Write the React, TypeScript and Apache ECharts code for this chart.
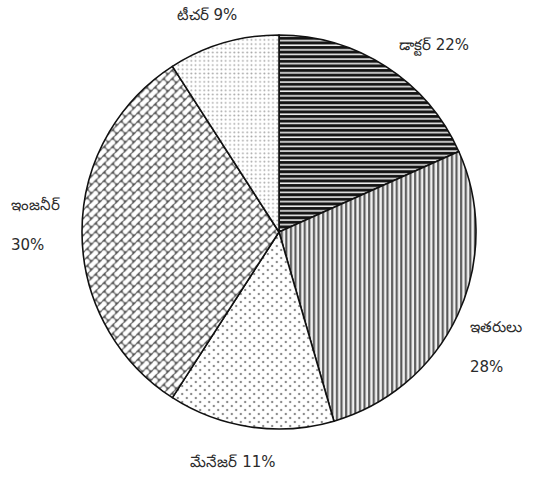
import { useEffect, useRef } from 'react';
import * as echarts from 'echarts';

// Slices, clockwise from 12 o'clock
const categories = ['డాక్టర్', 'ఇతరులు', 'మేనేజర్', 'ఇంజనీర్', 'టీచర్'];
// Shares as drawn (angles)
const drawnShares = [18.3, 27.2, 13.6, 31.8, 9.1];
// Percentages printed on the labels
const labelPercents = [22, 28, 11, 30, 9];

type Draw = (ctx: CanvasRenderingContext2D) => void;

function makeTile(w: number, h: number, draw: Draw) {
  const k = 10;
  const c = document.createElement('canvas');
  c.width = Math.round(w * k);
  c.height = Math.round(h * k);
  const ctx = c.getContext('2d') as CanvasRenderingContext2D;
  ctx.scale(k, k);
  draw(ctx);
  return { image: c, repeat: 'repeat', imageWidth: w, imageHeight: h } as any;
}

function horizontalLines() {
  const p = 4.6;
  return makeTile(4, p, (ctx) => {
    ctx.fillStyle = '#eeeeee';
    ctx.fillRect(0, 0, 4, p);
    ctx.fillStyle = '#6a6a6a';
    ctx.fillRect(0, 0, 4, 3.1);
    ctx.fillStyle = '#111111';
    ctx.fillRect(0, 0.35, 4, 2.4);
  });
}

function verticalLines() {
  const p = 4.6;
  return makeTile(p, 4, (ctx) => {
    ctx.fillStyle = '#f0f0f0';
    ctx.fillRect(0, 0, p, 4);
    ctx.fillStyle = '#a8a8a8';
    ctx.fillRect(0, 0, 2.4, 4);
    ctx.fillStyle = '#505050';
    ctx.fillRect(0.45, 0, 1.5, 4);
  });
}

function sparseDots() {
  const w = 9, h = 8;
  return makeTile(w, h, (ctx) => {
    ctx.fillStyle = '#ffffff';
    ctx.fillRect(0, 0, w, h);
    ctx.fillStyle = '#7a7a7a';
    [[2.25, 2], [6.75, 6]].forEach(([x, y]) => {
      ctx.beginPath();
      ctx.arc(x, y, 1.15, 0, Math.PI * 2);
      ctx.fill();
    });
  });
}

function fineDots() {
  const w = 4.3, h = 4.2;
  return makeTile(w, h, (ctx) => {
    ctx.fillStyle = '#ffffff';
    ctx.fillRect(0, 0, w, h);
    ctx.fillStyle = '#a8a8a8';
    ctx.beginPath();
    ctx.arc(2.1, 2.1, 0.85, 0, Math.PI * 2);
    ctx.fill();
  });
}

function bricks() {
  const s = 8.5;
  const hh = s / Math.SQRT2; // row height
  const L = 2 * hh; // brick length
  return makeTile(s, s, (ctx) => {
    ctx.fillStyle = '#4a4a4a';
    ctx.fillRect(0, 0, s, s);
    ctx.fillStyle = '#ffffff';
    const bw = L - 1.05;
    const bh = hh - 1.05;
    const r = 1.8;
    for (let j = -4; j <= 4; j++) {
      for (let i = -4; i <= 4; i++) {
        const u = i * L + (j % 2 !== 0 ? L / 2 : 0);
        const v = j * hh;
        const cx = (u + v) / Math.SQRT2;
        const cy = (-u + v) / Math.SQRT2;
        ctx.save();
        ctx.translate(cx, cy);
        ctx.rotate(-Math.PI / 4);
        ctx.beginPath();
        const x0 = -bw / 2, y0 = -bh / 2;
        ctx.moveTo(x0 + r, y0);
        ctx.lineTo(x0 + bw - r, y0);
        ctx.arcTo(x0 + bw, y0, x0 + bw, y0 + r, r);
        ctx.lineTo(x0 + bw, y0 + bh - r);
        ctx.arcTo(x0 + bw, y0 + bh, x0 + bw - r, y0 + bh, r);
        ctx.lineTo(x0 + r, y0 + bh);
        ctx.arcTo(x0, y0 + bh, x0, y0 + bh - r, r);
        ctx.lineTo(x0, y0 + r);
        ctx.arcTo(x0, y0, x0 + r, y0, r);
        ctx.closePath();
        ctx.fill();
        ctx.restore();
      }
    }
  });
}

export default function App() {
  const ref = useRef<HTMLDivElement>(null);

  useEffect(() => {
    if (!ref.current) return;
    const chart = echarts.init(ref.current, null, { renderer: 'svg' });
    const fills = [horizontalLines(), verticalLines(), sparseDots(), bricks(), fineDots()];
    const font = '15px "DejaVu Sans"';
    const txt = '#2b2b2b';
    const lbl = (i: number) => `${categories[i]} ${labelPercents[i]}%`;

    chart.setOption({
      animation: false,
      backgroundColor: '#ffffff',
      series: [
        {
          type: 'pie',
          center: [279, 232],
          radius: 197,
          startAngle: 90,
          clockwise: true,
          label: { show: false },
          labelLine: { show: false },
          emphasis: { disabled: true },
          itemStyle: { borderColor: '#111111', borderWidth: 1.6 },
          data: categories.map((name, i) => ({
            name,
            value: drawnShares[i],
            itemStyle: { color: fills[i] },
          })),
        },
      ],
      graphic: [
        { type: 'text', x: 207, y: 15, style: { text: lbl(4), font, fill: txt, textAlign: 'center', textVerticalAlign: 'middle' } },
        { type: 'text', x: 434, y: 45, style: { text: lbl(0), font, fill: txt, textAlign: 'center', textVerticalAlign: 'middle' } },
        { type: 'text', x: 11, y: 205, style: { text: categories[3], font, fill: txt, textAlign: 'left', textVerticalAlign: 'middle' } },
        { type: 'text', x: 11, y: 245, style: { text: `${labelPercents[3]}%`, font, fill: txt, textAlign: 'left', textVerticalAlign: 'middle' } },
        { type: 'text', x: 470, y: 327, style: { text: categories[1], font, fill: txt, textAlign: 'left', textVerticalAlign: 'middle' } },
        { type: 'text', x: 470, y: 367, style: { text: `${labelPercents[1]}%`, font, fill: txt, textAlign: 'left', textVerticalAlign: 'middle' } },
        { type: 'text', x: 233, y: 462, style: { text: lbl(2), font, fill: txt, textAlign: 'center', textVerticalAlign: 'middle' } },
      ],
    });
    return () => chart.dispose();
  }, []);

  return (
    <div
      ref={ref}
      style={{ position: 'fixed', left: 0, top: 0, width: 537, height: 477 }}
    />
  );
}
